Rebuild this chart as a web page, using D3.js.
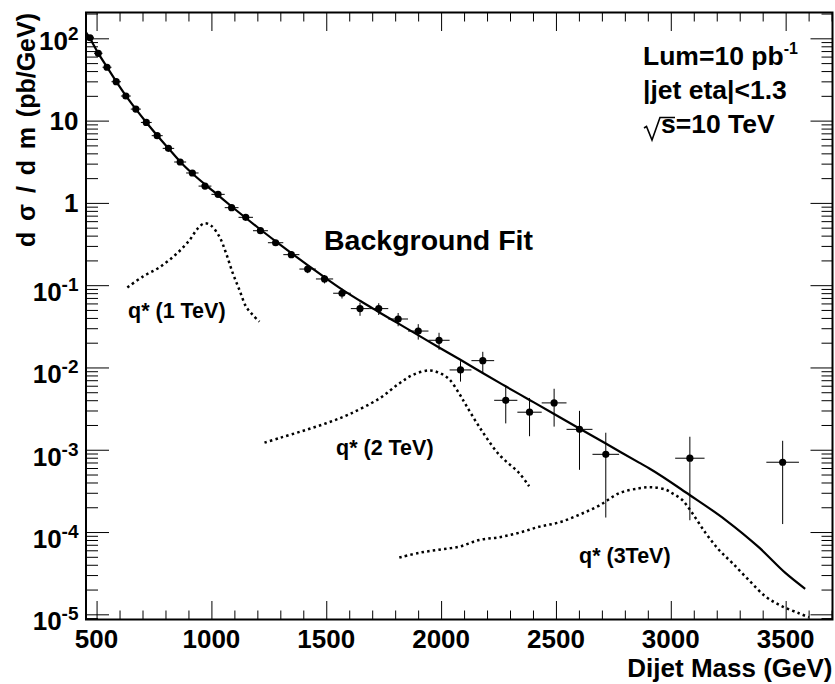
<!DOCTYPE html>
<html>
<head>
<meta charset="utf-8">
<script src="https://cdn.jsdelivr.net/npm/d3@7/dist/d3.min.js"></script>
<style>
  html, body { margin: 0; padding: 0; background: #fff; }
  svg { display: block; }
  text { font-family: "Liberation Sans", Arial, Helvetica, sans-serif; font-weight: bold; fill: #000; }
</style>
</head>
<body>
<script>
// Dijet mass bins (GeV): low/high edges
const binEdges = [454, 489, 526, 565, 606, 649, 693, 740, 788, 838, 890, 944, 1000, 1058, 1118, 1181, 1246, 1313, 1383, 1455,
  1530, 1607, 1687, 1770, 1856, 1945, 2037, 2132, 2231, 2332, 2438, 2546, 2659, 2775, 2895, 3019, 3147, 3279, 3416, 3558, 3704];

// Measured dσ/dm per bin (pb/GeV); null = empty bin
const crossSection = [101.6, 65.8, 44.5, 29.7, 19.9, 13.8, 9.5, 6.56, 4.6, 3.14, 2.31, 1.60, 1.27, 0.875, 0.668, 0.459, 0.328, 0.235, 0.157, 0.119,
  0.0798, 0.0519, 0.0519, 0.0388, 0.0277, 0.0214, 0.00933, 0.0121, 0.00399, 0.00286, 0.00371, 0.00177, 0.00088, null, null, 0.000789, null, null, 0.000705, null];

// Statistical uncertainty per bin (pb/GeV)
const crossSectionErr = [0.54, 0.42, 0.34, 0.27, 0.215, 0.177, 0.142, 0.117, 0.096, 0.078, 0.065, 0.053, 0.047, 0.038, 0.033, 0.027, 0.022, 0.020, 0.017, 0.014,
  0.011, 0.0095, 0.0085, 0.0071, 0.0059, 0.005, 0.0026, 0.0034, 0.0019, 0.0014, 0.0018, 0.0012, 0.00073, null, null, 0.00065, null, null, 0.00058, null];

// Background fit curve
const fitMass  = [454, 470, 507, 546, 586, 628, 671, 717, 764, 813, 864, 917, 972, 1029, 1088, 1150, 1213, 1280, 1348, 1419, 1492,
  1568, 1647, 1728, 1813, 1900, 1991, 2084, 2181, 2281, 2385, 2492, 2602, 2717, 2862, 2905, 3082, 3239, 3384, 3500, 3585];
const fitValue = [118, 101, 66, 44.5, 29.8, 20, 13.8, 9.5, 6.6, 4.6, 3.17, 2.28, 1.68, 1.24, 0.904, 0.655, 0.475, 0.341, 0.245, 0.175, 0.125,
  0.089, 0.0646, 0.0473, 0.0343, 0.0247, 0.0175, 0.0124, 0.00855, 0.0059, 0.00403, 0.00272, 0.00181, 0.00119, 0.000697, 0.000596, 0.000282, 0.000140, 6.5e-5, 3.16e-5, 2.04e-5];

// Excited quark signals
const q1Mass  = [634, 701, 774, 847, 905, 941, 970, 999, 1035, 1064, 1093, 1122, 1151, 1180, 1209];
const q1Value = [0.094, 0.127, 0.165, 0.239, 0.354, 0.491, 0.565, 0.528, 0.388, 0.244, 0.140, 0.0875, 0.0548, 0.0435, 0.036];

const q2Mass  = [1231, 1300, 1400, 1500, 1600, 1731, 1818, 1880, 1949, 1992, 2035, 2079, 2108, 2166, 2253, 2340, 2383];
const q2Value = [0.00122, 0.00140, 0.00170, 0.0021, 0.0027, 0.0042, 0.0064, 0.0082, 0.0092, 0.0086, 0.0072, 0.0048, 0.0035, 0.0019, 0.00087, 0.00052, 0.00036];

const q3Mass  = [1818, 1905, 1990, 2079, 2166, 2253, 2340, 2427, 2514, 2601, 2688, 2775, 2862, 2920, 2978, 3007, 3050, 3094, 3152, 3210, 3268, 3340, 3413, 3485, 3558, 3601];
const q3Value = [4.9e-5, 5.6e-5, 6.1e-5, 6.65e-5, 8.0e-5, 8.65e-5, 9.8e-5, 1.16e-4, 1.31e-4, 1.62e-4, 2.1e-4, 2.96e-4, 3.40e-4, 3.50e-4, 3.27e-4, 2.95e-4, 2.45e-4, 1.69e-4, 9.7e-5, 6.05e-5, 4.2e-5, 2.6e-5, 1.64e-5, 1.25e-5, 1.03e-5, 9.2e-6];

// Axis ticks
const xMajor = [500, 1000, 1500, 2000, 2500, 3000, 3500];
const xMinor = d3.range(500, 3701, 100).filter(v => v % 500 !== 0);
const yMajorExp = [2, 1, 0, -1, -2, -3, -4, -5];

const W = 835, H = 684;
const L = 86, R = 832.5, T = 12.5, B = 619.5;

const svg = d3.select("body").append("svg").attr("width", W).attr("height", H);
svg.append("rect").attr("width", W).attr("height", H).attr("fill", "#fff");

const x = d3.scaleLinear().domain([454, 3704]).range([L, R]);
const y = d3.scaleLog().domain([8.65e-6, 206]).range([B, T]);

const yMajor = yMajorExp.map(e => Math.pow(10, e));
const yMinor = [];
for (let e = -6; e <= 2; e++) {
  for (let k = 2; k <= 9; k++) {
    const v = k * Math.pow(10, e);
    if (v >= 8.65e-6 && v <= 206) yMinor.push(v);
  }
}

function tickAxis(axisFn, scale, values, size, transform) {
  const g = svg.append("g").attr("transform", transform)
    .call(axisFn(scale).tickValues(values).tickSize(size).tickFormat(""));
  g.select(".domain").remove();
  g.selectAll(".tick line").attr("stroke", "#000").attr("stroke-width", 1);
  g.selectAll(".tick text").remove();
  return g;
}

// x ticks (bottom and top, pointing inward)
tickAxis(d3.axisBottom, x, xMajor, -18.5, `translate(0,${B})`);
tickAxis(d3.axisBottom, x, xMinor, -9, `translate(0,${B})`);
tickAxis(d3.axisTop, x, xMajor, -18.5, `translate(0,${T})`);
tickAxis(d3.axisTop, x, xMinor, -9, `translate(0,${T})`);
// y ticks (left and right, pointing inward)
tickAxis(d3.axisLeft, y, yMajor, -23, `translate(${L},0)`);
tickAxis(d3.axisLeft, y, yMinor, -12, `translate(${L},0)`);
tickAxis(d3.axisRight, y, yMajor, -22, `translate(${R},0)`);
tickAxis(d3.axisRight, y, yMinor, -11, `translate(${R},0)`);

// frame
svg.append("rect").attr("x", L).attr("y", T).attr("width", R - L).attr("height", B - T)
  .attr("fill", "none").attr("stroke", "#000").attr("stroke-width", 2);

// x tick labels
svg.append("g").selectAll("text").data(xMajor).join("text")
  .attr("x", d => x(d)).attr("y", 647.7).attr("text-anchor", "middle")
  .style("font-size", "26px").text(d => d);

// y tick labels
const yl = svg.append("g").selectAll("text").data(yMajorExp).join("text")
  .attr("x", 78.5)
  .attr("y", e => y(Math.pow(10, e)) + (e === 0 || e === 1 ? 9.3 : (e === 2 ? 12 : 16)))
  .attr("text-anchor", "end").style("font-size", "26px");
yl.each(function (e) {
  const t = d3.select(this);
  if (e === 0) { t.text("1"); return; }
  if (e === 1) { t.text("10"); return; }
  t.append("tspan").text("10");
  t.append("tspan").attr("dy", -10).style("font-size", "19px").text(String(e));
});

// axis titles
svg.append("text").attr("x", R).attr("y", 677).attr("text-anchor", "end")
  .style("font-size", "26px").text("Dijet Mass (GeV)");
svg.append("text").attr("transform", "translate(35,13) rotate(-90)").attr("text-anchor", "end")
  .style("font-size", "25px").text("(pb/GeV)");
svg.append("text").attr("transform", "translate(35,247) rotate(-90)").attr("text-anchor", "start")
  .attr("textLength", 120).attr("lengthAdjust", "spacing")
  .style("font-size", "25px").text("dσ/dm");

// signal curves (dotted)
const signalLine = d3.line().x(d => x(d[0])).y(d => y(d[1])).curve(d3.curveCatmullRom.alpha(0.5));
[[q1Mass, q1Value], [q2Mass, q2Value], [q3Mass, q3Value]].forEach(([m, v]) => {
  svg.append("path").datum(m.map((mm, i) => [mm, v[i]]))
    .attr("d", signalLine).attr("fill", "none").attr("stroke", "#000")
    .attr("stroke-width", 2.5).attr("stroke-dasharray", "2.5,3.2");
});

// background fit
const fitLine = d3.line().x(d => x(d[0])).y(d => y(d[1])).curve(d3.curveMonotoneX);
svg.append("path").datum(fitMass.map((m, i) => [m, fitValue[i]]))
  .attr("d", fitLine).attr("fill", "none").attr("stroke", "#000").attr("stroke-width", 2.2);

// data points with error bars
const points = crossSection.map((v, i) => ({
  lo: binEdges[i], hi: binEdges[i + 1], c: (binEdges[i] + binEdges[i + 1]) / 2, v, e: crossSectionErr[i]
})).filter(d => d.v !== null);

const pg = svg.append("g");
pg.selectAll("line.h").data(points).join("line").attr("class", "h")
  .attr("x1", d => x(d.lo)).attr("x2", d => x(d.hi))
  .attr("y1", d => y(d.v)).attr("y2", d => y(d.v))
  .attr("stroke", "#000").attr("stroke-width", 1);
pg.selectAll("line.v").data(points).join("line").attr("class", "v")
  .attr("x1", d => x(d.c)).attr("x2", d => x(d.c))
  .attr("y1", d => y(Math.max(d.v - d.e, 1e-6))).attr("y2", d => y(d.v + d.e))
  .attr("stroke", "#000").attr("stroke-width", 1);
pg.selectAll("circle").data(points).join("circle")
  .attr("cx", d => x(d.c)).attr("cy", d => y(d.v)).attr("r", 3.6).attr("fill", "#000");

// annotations
svg.append("text").attr("x", 324).attr("y", 250).style("font-size", "28.5px").text("Background Fit");
svg.append("text").attr("x", 128).attr("y", 318).style("font-size", "21.5px").text("q* (1 TeV)");
svg.append("text").attr("x", 336).attr("y", 455).style("font-size", "21.5px").text("q* (2 TeV)");
svg.append("text").attr("x", 579).attr("y", 563).style("font-size", "21.5px").text("q* (3TeV)");

const info = svg.append("g").style("font-size", "26.5px");
const lum = info.append("text").attr("x", 643).attr("y", 65);
lum.append("tspan").text("Lum=10 pb");
lum.append("tspan").attr("dy", -11).style("font-size", "16px").text("-1");
info.append("text").attr("x", 643).attr("y", 98.5).text("|jet eta|<1.3");
info.append("text").attr("x", 661).attr("y", 132.5).text("s=10 TeV");
// square-root sign over "s"
info.append("path").attr("d", "M644,128 L646.5,126.5 L652,140 L660,117.5 L675,117.5")
  .attr("fill", "none").attr("stroke", "#000").attr("stroke-width", 1.6);
</script>
</body>
</html>
